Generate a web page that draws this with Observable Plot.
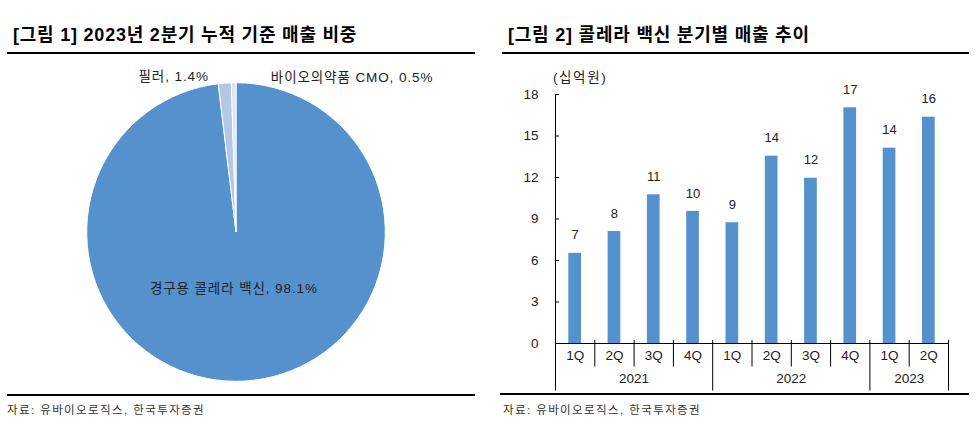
<!DOCTYPE html>
<html><head><meta charset="utf-8">
<script src="https://cdn.jsdelivr.net/npm/d3@7"></script>
<script src="https://cdn.jsdelivr.net/npm/@observablehq/plot@0.6"></script>
<style>
body{margin:0;background:#fff;font-family:"Liberation Sans","Noto Sans CJK KR",sans-serif;}
#wrap{position:relative;width:976px;height:436px;overflow:hidden;background:#fff;}
.title{position:absolute;top:26px;font-size:18px;font-weight:bold;line-height:1;color:#000;white-space:nowrap;letter-spacing:0.78px;}
.rule{position:absolute;height:2px;background:#000;}
.src{position:absolute;top:405px;font-size:11.5px;line-height:1;color:#333;white-space:nowrap;letter-spacing:1.4px;}
.unit{position:absolute;font-size:13.5px;line-height:1;color:#222;white-space:nowrap;letter-spacing:1.6px;}
.chart{position:absolute;}
.chart svg{background:transparent;}
</style></head><body>
<div id="wrap">
 <div id="pie" class="chart" style="left:0;top:56px;width:480px;height:336px"></div>
 <div id="bars" class="chart" style="left:500px;top:60px;width:476px;height:335px"></div>
 <div class="title" style="left:13px">[그림 1] 2023년 2분기 누적 기준 매출 비중</div>
 <div class="rule" style="left:7px;width:468px;top:52px"></div>
 <div class="rule" style="left:7px;width:468px;top:394px"></div>
 <div class="src" style="left:7px">자료: 유바이오로직스, 한국투자증권</div>
 <div class="title" style="left:508px">[그림 2] 콜레라 백신 분기별 매출 추이</div>
 <div class="rule" style="left:502px;width:467px;top:52px"></div>
 <div class="rule" style="left:500px;width:469px;top:393px"></div>
 <div class="src" style="left:503px">자료: 유바이오로직스, 한국투자증권</div>
 <div id="unit" class="unit" style="left:553px;top:71px"></div>
</div>
<script>
// ---------- data ----------
const pieNames = ["경구용 콜레라 백신", "필러", "바이오의약품 CMO"];
const pieShares = [98.1, 1.4, 0.5];

const quarters = ["1Q", "2Q", "3Q", "4Q", "1Q", "2Q", "3Q", "4Q", "1Q", "2Q"];
const years = ["2021", "2022", "2023"];
const quartersPerYear = [4, 4, 2];
const sales = [6.52, 8.1, 10.75, 9.55, 8.73, 13.54, 11.95, 17.04, 14.12, 16.36];
const yTicks = [0, 3, 6, 9, 12, 15, 18];
const unitLabel = "(십억원)";

// ---------- styles ----------
const BLUE = "#5592CD";
const PIE_COLORS = [BLUE, "#B4C7E7", "#DCE6F3"];
const TEXT = "#222";
const FONT = '"Liberation Sans","Noto Sans CJK KR",sans-serif';

document.getElementById("unit").textContent = unitLabel;

// ---------- pie ----------
const pieArcs = d3.pie().sort(null).value(d => d.share)(
  pieNames.map((name, i) => ({name, share: pieShares[i], color: PIE_COLORS[i]}))
);
const pieRows = pieArcs.map(a => ({
  label: `${a.data.name}, ${a.data.share.toFixed(1)}%`,
  mid: (a.startAngle + a.endAngle) / 2
}));
const PW = 480, PH = 336, CX = 236, CY = 176, R = 149.3;
function pieRender(index, scales) {
  const cx = scales.x(0), cy = scales.y(0), r = scales.x(1) - scales.x(0);
  const arc = d3.arc().innerRadius(0).outerRadius(r);
  const g = d3.create("svg:g").attr("transform", `translate(${cx},${cy})`);
  g.selectAll("path").data(pieArcs).join("path")
    .attr("d", arc)
    .attr("fill", d => d.data.color)
    .attr("stroke", "#fff")
    .attr("stroke-width", 1);
  return g.node();
}
function pieLabel(i, k, dx, dy) {
  return Plot.text([pieRows[i]], {
    x: d => k * Math.sin(d.mid), y: d => k * Math.cos(d.mid),
    text: "label", dx, dy, fontSize: 13.5, fill: TEXT
  });
}
const pie = Plot.plot({
  width: PW, height: PH,
  x: {domain: [-1, 1], range: [CX - R, CX + R], axis: null},
  y: {domain: [-1, 1], range: [CY + R, CY - R], axis: null},
  style: {fontFamily: FONT, background: "transparent", overflow: "visible", letterSpacing: "0.9px"},
  marks: [
    pieRender,
    pieLabel(0, 0.38, -6, 0),
    pieLabel(1, 1.05, -51, 0),
    pieLabel(2, 1.04, 118, 0)
  ]
});
document.getElementById("pie").append(pie);

// ---------- bars ----------
const rows = sales.map((v, i) => ({i0: i, i1: i + 1, mid: i + 0.5, v, q: quarters[i]}));
let acc = 0;
const yearRows = years.map((year, j) => {
  const start = acc; acc += quartersPerYear[j];
  return {year, start, end: acc, mid: (start + acc) / 2};
});
const yearBounds = yearRows.map(d => d.end);
const quarterBounds = d3.range(1, quarters.length).filter(b => !yearBounds.includes(b));

const W = 476, H = 335, ML = 55, MR = 28, MT = 34, MB = 52;
const plotW = W - ML - MR, plotH = H - MT - MB;
const bars = Plot.plot({
  width: W, height: H, marginLeft: ML, marginRight: MR, marginTop: MT, marginBottom: MB,
  x: {domain: [0, quarters.length], axis: null},
  y: {domain: [0, 18], axis: null, label: null},
  style: {fontFamily: FONT, fontSize: "13.5px", color: TEXT, background: "transparent", overflow: "visible"},
  marks: [
    Plot.rectY(rows, {x1: "i0", x2: "i1", y: "v", insetLeft: 13.3, insetRight: 13.3, fill: BLUE}),
    Plot.text(rows, {x: "mid", y: "v", text: d => String(Math.round(d.v)), dy: -18, fontSize: 13, fill: TEXT}),
    Plot.ruleY([0], {stroke: "#000"}),
    Plot.tickY(yTicks, {y: d => d, insetRight: plotW - 4, stroke: "#000"}),
    Plot.tickX([0], {x: d => d, insetBottom: -47.5, stroke: "#000"}),
    Plot.tickX(yearBounds, {x: d => d, insetTop: plotH - 3, insetBottom: -47.5, stroke: "#000"}),
    Plot.tickX(quarterBounds, {x: d => d, insetTop: plotH - 3, insetBottom: -23.5, stroke: "#000"}),
    Plot.axisY(yTicks, {tickSize: 0, tickPadding: 17, fontSize: 13.5, fill: TEXT, label: null}),
    Plot.text(rows, {x: "mid", frameAnchor: "bottom", dy: 16, text: "q", fontSize: 13.5, fill: TEXT}),
    Plot.text(yearRows, {x: "mid", frameAnchor: "bottom", dy: 39, text: "year", fontSize: 13.5, fill: TEXT})
  ]
});
document.getElementById("bars").append(bars);
</script>
</body></html>
